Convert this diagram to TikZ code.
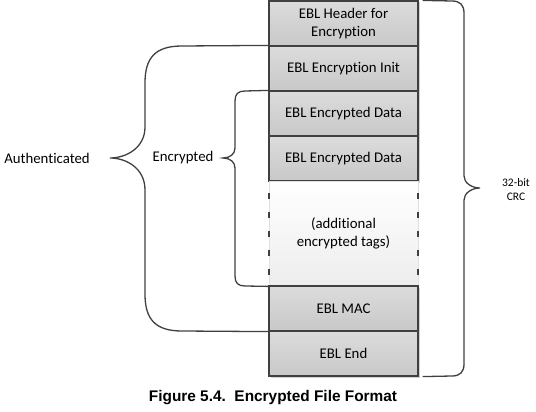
\documentclass[tikz,border=0pt]{standalone}
\usepackage{fontspec}
\setmainfont[Ligatures={NoCommon,NoContextual}]{Carlito}
\newfontfamily\capfont{Liberation Sans}
\usetikzlibrary{shadows}
\definecolor{linec}{HTML}{404040}
\definecolor{boxtop}{HTML}{DCDCDC}
\definecolor{boxbot}{HTML}{C8C8C8}
\definecolor{addbot}{HTML}{EDEDED}
\tikzset{
  blk/.style={draw=linec, line width=1.2pt, top color=boxtop, bottom color=boxbot,
    minimum width=149pt, minimum height=45pt, inner sep=0pt, align=center,
    font=\fontsize{14.8}{17.8}\selectfont,
    drop shadow={shadow xshift=1.5pt, shadow yshift=-1.5pt, opacity=0.18, fill=black}},
  addbox/.style={draw=gray!25, line width=0.8pt, top color=white, bottom color=addbot,
    minimum width=149pt, minimum height=105pt, inner sep=0pt, align=center,
    font=\fontsize{14.8}{17.8}\selectfont},
  sidedash/.style={draw=linec, line width=2pt, dash pattern=on 6pt off 13pt, dash phase=-12pt},
  brace/.style={draw=linec, line width=1.3pt},
  lbl/.style={font=\fontsize{14.8}{17.8}\selectfont, inner sep=0pt},
}
\begin{document}
\begin{tikzpicture}[x=1pt,y=-1pt]
\useasboundingbox (0,0) rectangle (536,412);
% stack of blocks
\node[blk] (hdr)  at (343.5,23.5) {EBL Header for\\Encryption};
\node[blk] (init) at (343.5,68.5) {EBL Encryption Init};
\node[blk] (d1)   at (343.5,113.5) {EBL Encrypted Data};
\node[blk] (d2)   at (343.5,158.5) {EBL Encrypted Data};
\node[addbox] (add) at (343.5,233.5) {(additional\\encrypted tags)};
\draw[sidedash] (add.north west) -- (add.south west);
\draw[sidedash] (add.north east) -- (add.south east);
\node[blk] (mac)  at (343.5,308.5) {EBL MAC};
\node[blk] (end)  at (343.5,353.5) {EBL End};
% labels
\node[lbl] (auth) at (47,158) {Authenticated};
\node[lbl] (encr) at (183,158) {Encrypted};
\node[font=\fontsize{11.5}{14}\selectfont, align=center, inner sep=0pt] (crc) at (516,190) {32-bit\\CRC};
% Authenticated brace
\coordinate (atip) at (110,158);
\draw[brace] (init.north west) -- (182,46)
  .. controls (155,46) and (145,58) .. (145,83) -- (145,127)
  .. controls (145,148) and (126,158) .. (atip)
  .. controls (126,158) and (145,168) .. (145,190) -- (145,294)
  .. controls (145,319) and (155,331) .. (182,331) -- (mac.south west);
% Encrypted brace
\coordinate (etip) at (223,158);
\draw[brace] (d1.north west) -- (245,91)
  .. controls (238,91) and (235,94) .. (235,101) -- (235,148)
  .. controls (235,154) and (230,158) .. (etip)
  .. controls (230,158) and (235,162) .. (235,168) -- (235,276)
  .. controls (235,283) and (238,286) .. (245,286) -- (add.south west);
% CRC brace
\coordinate (ctip) at (480,188);
\draw[brace] ([xshift=4pt]hdr.north east) -- (452,1)
  .. controls (460,1) and (464,5) .. (464,13) -- (464,176)
  .. controls (464,183) and (472,188) .. (ctip)
  .. controls (472,188) and (464,193) .. (464,200) -- (464,364)
  .. controls (464,372) and (460,376) .. (452,376) -- ([xshift=4pt]end.south east);
% caption
\node[font=\capfont\bfseries\fontsize{15.4}{18}\selectfont, inner sep=0pt] (cap) at (273,398) {Figure 5.4.\ \ Encrypted File Format};
\end{tikzpicture}
\end{document}
